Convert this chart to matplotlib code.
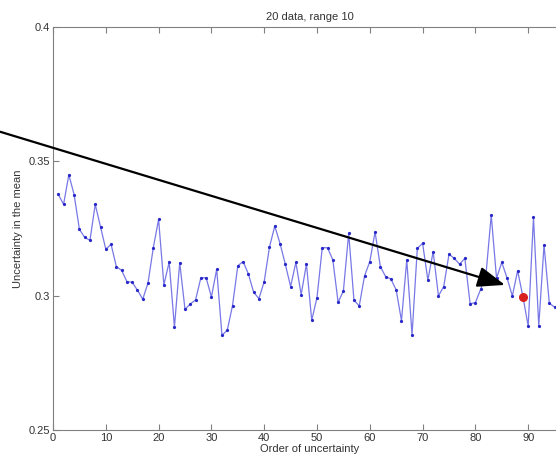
import matplotlib
matplotlib.use("Agg")
import matplotlib.pyplot as plt
import numpy as np

plt.rcParams['font.family'] = ['Liberation Sans', 'DejaVu Sans']

order = list(range(1, 96))
uncertainty = [
    0.3377, 0.3340, 0.3450, 0.3376, 0.3247, 0.3217, 0.3206, 0.3340, 0.3256, 0.3173,
    0.3191, 0.3108, 0.3094, 0.3052, 0.3050, 0.3020, 0.2987, 0.3048, 0.3179, 0.3284,
    0.3040, 0.3125, 0.2883, 0.3123, 0.2949, 0.2969, 0.2984, 0.3066, 0.3067, 0.2995,
    0.3098, 0.2853, 0.2871, 0.2963, 0.3111, 0.3127, 0.3081, 0.3013, 0.2989, 0.3052,
    0.3181, 0.3259, 0.3194, 0.3117, 0.3034, 0.3124, 0.3004, 0.3118, 0.2908, 0.2993,
    0.3179, 0.3178, 0.3133, 0.2975, 0.3018, 0.3232, 0.2983, 0.2962, 0.3073, 0.3127,
    0.3237, 0.3108, 0.3071, 0.3062, 0.3021, 0.2907, 0.3133, 0.2854, 0.3176, 0.3195,
    0.3058, 0.3164, 0.2999, 0.3034, 0.3154, 0.3139, 0.3117, 0.3139, 0.2970, 0.2974,
    0.3024, 0.3078, 0.3300, 0.3065, 0.3124, 0.3065, 0.2999, 0.3093, 0.2996, 0.2887,
    0.3292, 0.2887, 0.3189, 0.2972, 0.2957,
]
highlight_index = 89
arrow_start = (-10.0, 0.3610)
arrow_end = (85.6, 0.3040)

title = "20 data, range 10"
xlabel = "Order of uncertainty"
ylabel = "Uncertainty in the mean"
xticks = [0, 10, 20, 30, 40, 50, 60, 70, 80, 90]
yticks = [0.25, 0.3, 0.35, 0.4]
ytick_labels = ["0.25", "0.3", "0.35", "0.4"]

fig = plt.figure(figsize=(5.56, 4.62), dpi=100)
W, H = 556, 462
left, right, top, bottom = 53, 567, 27, 430
ax = fig.add_axes([left / W, 1 - bottom / H, (right - left) / W, (bottom - top) / H])

ax.plot(order, uncertainty, color='#7878e6', lw=0.9, marker='.', markersize=2.6,
        markerfacecolor='#2828c8', markeredgecolor='#2828c8', zorder=2)
ax.plot([highlight_index], [uncertainty[order.index(highlight_index)]], 'o',
        color='#d92020', markersize=5.5, zorder=3)

ax.set_xlim(0, (right - left) / 52.8 * 10)
ax.set_ylim(0.25, 0.4)
ax.set_xticks(xticks)
ax.set_yticks(yticks)
ax.set_yticklabels(ytick_labels)

for s in ['left', 'top', 'bottom']:
    ax.spines[s].set_color('#808080')
    ax.spines[s].set_linewidth(0.8)
ax.spines['right'].set_visible(False)
ax.tick_params(direction='in', length=4, width=0.8, color='#808080',
               labelsize=8, labelcolor='#333333', top=True, pad=2)

ax.set_title(title, fontsize=8, color='#333333', pad=5)
ax.set_xlabel(xlabel, fontsize=8, color='#333333', labelpad=1)
ax.set_ylabel(ylabel, fontsize=8, color='#333333', labelpad=4)

ax.annotate('', xy=arrow_end, xytext=arrow_start, annotation_clip=False,
            arrowprops=dict(arrowstyle='-|>,head_length=1.2,head_width=0.45',
                            color='black', lw=1.6, shrinkA=0, shrinkB=0,
                            mutation_scale=14), zorder=4)

fig.savefig('out.png', dpi=100)
